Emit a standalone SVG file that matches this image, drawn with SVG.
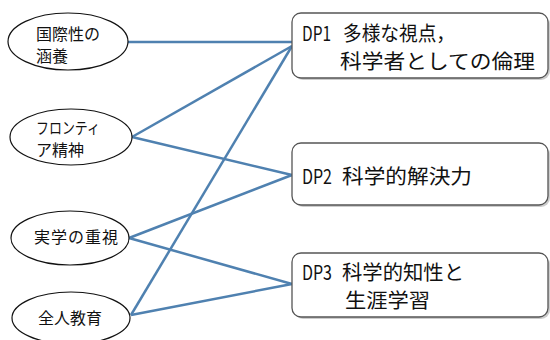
<svg xmlns="http://www.w3.org/2000/svg" width="550" height="340" viewBox="0 0 550 340">
<style>
.e{fill:#fff;stroke:#111;stroke-width:1.2}
.r{fill:#fff;stroke:#555;stroke-width:1.3}
.sh{fill:#999;opacity:0.5}
.c{stroke:#4f81b0;stroke-width:2.5;fill:none}
.t{font-family:"Noto Sans CJK JP","Liberation Sans",sans-serif;fill:#111}
.s{font-size:16px}
.b{font-size:20px}
</style>
<rect width="550" height="340" fill="#fff"/>
<g id="connectors">
<line class="c" x1="128" y1="42" x2="292" y2="42"/>
<line class="c" x1="132" y1="137" x2="292" y2="46"/>
<line class="c" x1="132" y1="137" x2="292" y2="175"/>
<line class="c" x1="129" y1="238" x2="292" y2="175"/>
<line class="c" x1="129" y1="238" x2="292" y2="284"/>
<line class="c" x1="131" y1="315" x2="292" y2="46"/>
<line class="c" x1="131" y1="315" x2="292" y2="284"/>
</g>
<g id="n1"><ellipse class="e" cx="68" cy="41.5" rx="60" ry="28.5"/><text class="t s" x="36" y="40">国際性の</text><text class="t s" x="36" y="62">涵養</text></g>
<g id="n2"><ellipse class="e" cx="71" cy="137" rx="61" ry="28"/><text class="t s" x="36" y="134" textLength="64" lengthAdjust="spacingAndGlyphs">フロンティ</text><text class="t s" x="36" y="156">ア精神</text></g>
<g id="n3"><ellipse class="e" cx="70" cy="238" rx="59" ry="27"/><text class="t s" x="34" y="243" textLength="84">実学の重視</text></g>
<g id="n4"><ellipse class="e" cx="71" cy="318" rx="59" ry="26"/><text class="t s" x="38" y="324">全人教育</text></g>
<g id="dp1"><rect class="sh" x="294" y="15" width="256" height="65" rx="9"/><rect class="r" x="292" y="13" width="256" height="65" rx="9"/><text class="t b" x="302" y="41" textLength="29" lengthAdjust="spacingAndGlyphs">DP1</text><text class="t b" x="343" y="41" textLength="112" lengthAdjust="spacingAndGlyphs">多様な視点，</text><text class="t b" x="340" y="69" textLength="195" lengthAdjust="spacingAndGlyphs">科学者としての倫理</text></g>
<g id="dp2"><rect class="sh" x="294" y="145" width="256" height="62" rx="9"/><rect class="r" x="292" y="143" width="256" height="62" rx="9"/><text class="t b" x="302" y="184" textLength="30" lengthAdjust="spacingAndGlyphs">DP2</text><text class="t b" x="342" y="184" textLength="130" lengthAdjust="spacingAndGlyphs">科学的解決力</text></g>
<g id="dp3"><rect class="sh" x="294" y="255" width="256" height="64" rx="9"/><rect class="r" x="292" y="253" width="256" height="64" rx="9"/><text class="t b" x="302" y="280" textLength="30" lengthAdjust="spacingAndGlyphs">DP3</text><text class="t b" x="342" y="280" textLength="122" lengthAdjust="spacingAndGlyphs">科学的知性と</text><text class="t b" x="345" y="308" textLength="85" lengthAdjust="spacingAndGlyphs">生涯学習</text></g>
</svg>
